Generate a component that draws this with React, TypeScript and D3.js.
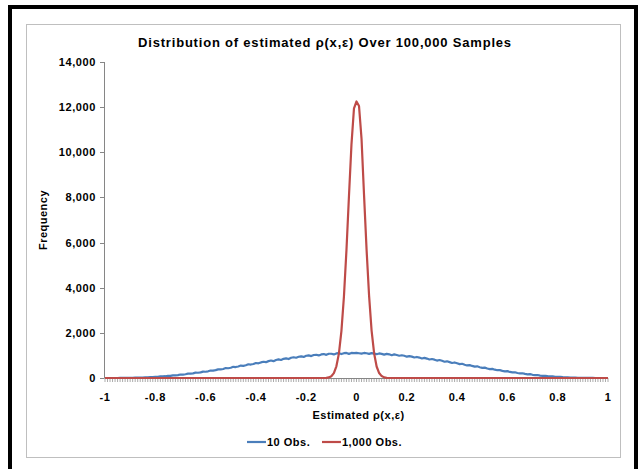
import React from "react";
import * as d3 from "d3";

// r from -1.00 to 1.00 in 0.01 steps (201 bins)
const binStart = -1;
const binStep = 0.01;

// 10 observations – left half (-1.00 .. -0.01)
const obs10Left = [
  0, 0, 0, 0, 1, 0, 3, 2, 5, 4,
  9, 8, 14, 15, 22, 20, 31, 30, 41, 42,
  55, 50, 70, 75, 79, 97, 92, 118, 120, 128,
  155, 146, 166, 192, 190, 205, 236, 232, 250, 284,
  278, 296, 332, 328, 347, 384, 380, 399, 440, 432,
  455, 496, 486, 510, 552, 540, 566, 610, 596, 622,
  664, 650, 690, 720, 700, 748, 775, 745, 800, 828,
  800, 850, 872, 840, 895, 920, 898, 940, 960, 935,
  985, 1000, 972, 1020, 1030, 1000, 1045, 1060, 1025, 1075,
  1075, 1045, 1090, 1100, 1060, 1100, 1110, 1070, 1110, 1100,
];
const obs10Center = [1115];
// 10 observations – right half (0.01 .. 1.00)
const obs10Right = [
  1098, 1082, 1110, 1095, 1068, 1102, 1080, 1055, 1088, 1070,
  1035, 1068, 1050, 1010, 1045, 1020, 985, 1008, 985, 945,
  972, 948, 908, 932, 905, 866, 892, 860, 820, 842,
  812, 772, 798, 762, 720, 740, 705, 666, 688, 650,
  614, 630, 590, 556, 572, 535, 502, 517, 478, 447,
  460, 422, 395, 404, 368, 345, 347, 318, 293, 304,
  268, 248, 254, 222, 203, 208, 180, 163, 170, 142,
  128, 133, 108, 95, 100, 80, 68, 74, 56, 46,
  52, 36, 29, 34, 21, 16, 21, 11, 8, 10,
  5, 3, 5, 2, 1, 1, 0, 0, 0, 0,
];

// 1,000 observations – nonzero bins from -0.12 .. 0.12
const obs1000Core = [
  5, 25, 80, 215, 520, 1080, 2080, 3600, 5650, 8050, 10350, 11950,
  12250,
  12050, 10600, 8100, 5700, 3650, 2100, 1100, 510, 220, 85, 28, 6,
];
const obs1000CoreStart = -0.12;

const yTicks = [0, 2000, 4000, 6000, 8000, 10000, 12000, 14000];
const xTickValues = [-1, -0.8, -0.6, -0.4, -0.2, 0, 0.2, 0.4, 0.6, 0.8, 1];
const xTickLabels = ["-1", "-0.8", "-0.6", "-0.4", "-0.2", "0", "0.2", "0.4", "0.6", "0.8", "1"];
const seriesNames = ["10 Obs.", "1,000 Obs."];
const seriesColors = ["#4A7EBB", "#BE4B48"];

const obs10 = [...obs10Left, ...obs10Center, ...obs10Right];
const binX = obs10.map((_, i) => +(binStart + i * binStep).toFixed(2));
const obs1000 = binX.map((x) => {
  const k = Math.round((x - obs1000CoreStart) / binStep);
  return k >= 0 && k < obs1000Core.length ? obs1000Core[k] : 0;
});

export default function App() {
  const W = 638;
  const H = 469;
  const left = 105;
  const right = 608;
  const top = 62;
  const bottom = 378;
  const x = d3.scaleLinear().domain([-1, 1]).range([left, right]);
  const y = d3.scaleLinear().domain([0, 14000]).range([bottom, top]);
  const line = d3
    .line<number>()
    .x((_, i) => x(binX[i]))
    .y((d) => y(d));
  const font = "'Liberation Sans', Arial, sans-serif";
  const axisColor = "#868686";
  const cx = (left + right) / 2;

  return (
    <svg
      width={W}
      height={H}
      style={{ position: "absolute", left: 0, top: 0, background: "#fff" }}
      fontFamily={font}
    >
      <rect x={10} y={7} width={626} height={480} fill="none" stroke="#000" strokeWidth={4} />
      <rect x={26.5} y={24.5} width={594} height={433} fill="#fff" stroke="#BFBFBF" strokeWidth={1} />

      <text x={325} y={47} textAnchor="middle" fontSize={13} fontWeight="bold" letterSpacing={0.8} fill="#000">
        Distribution of estimated ρ(x,ε) Over 100,000 Samples
      </text>

      {/* y axis */}
      <line x1={left - 0.5} x2={left - 0.5} y1={top} y2={bottom} stroke={axisColor} />
      {yTicks.map((t) => (
        <g key={t}>
          <line x1={left - 5} x2={left - 0.5} y1={Math.round(y(t)) + 0.5} y2={Math.round(y(t)) + 0.5} stroke={axisColor} />
          <text x={left - 9} y={y(t) + 4} textAnchor="end" fontSize={11} fontWeight="bold" letterSpacing={0.6} fill="#000">
            {d3.format(",")(t)}
          </text>
        </g>
      ))}
      <text
        transform={`translate(47,${(top + bottom) / 2}) rotate(-90)`}
        textAnchor="middle"
        fontSize={11}
        fontWeight="bold"
        letterSpacing={0.5}
        fill="#000"
      >
        Frequency
      </text>

      {/* x axis */}
      <line x1={left} x2={right} y1={bottom + 0.5} y2={bottom + 0.5} stroke={axisColor} />
      {binX.map((v, i) => (
        <line key={i} x1={x(v)} x2={x(v)} y1={bottom} y2={bottom + 4} stroke={axisColor} strokeWidth={0.7} />
      ))}
      {xTickValues.map((v, i) => (
        <text key={i} x={x(v)} y={bottom + 23} textAnchor="middle" fontSize={11} fontWeight="bold" letterSpacing={0.5} fill="#000">
          {xTickLabels[i]}
        </text>
      ))}
      <text x={cx + 2} y={bottom + 41} textAnchor="middle" fontSize={11} fontWeight="bold" letterSpacing={0.5} fill="#000">
        Estimated ρ(x,ε)
      </text>

      {/* series */}
      <path d={line(obs10) || ""} fill="none" stroke={seriesColors[0]} strokeWidth={2.2} strokeLinejoin="round" />
      <path d={line(obs1000) || ""} fill="none" stroke={seriesColors[1]} strokeWidth={2.2} strokeLinejoin="round" />

      {/* legend */}
      {seriesNames.map((name, i) => {
        const lx = [247, 322][i];
        return (
          <g key={name}>
            <line x1={lx} x2={lx + 19} y1={442} y2={442} stroke={seriesColors[i]} strokeWidth={2.2} />
            <text x={lx + 20} y={446} fontSize={11} fontWeight="bold" letterSpacing={0.5} fill="#000">
              {name}
            </text>
          </g>
        );
      })}
    </svg>
  );
}
